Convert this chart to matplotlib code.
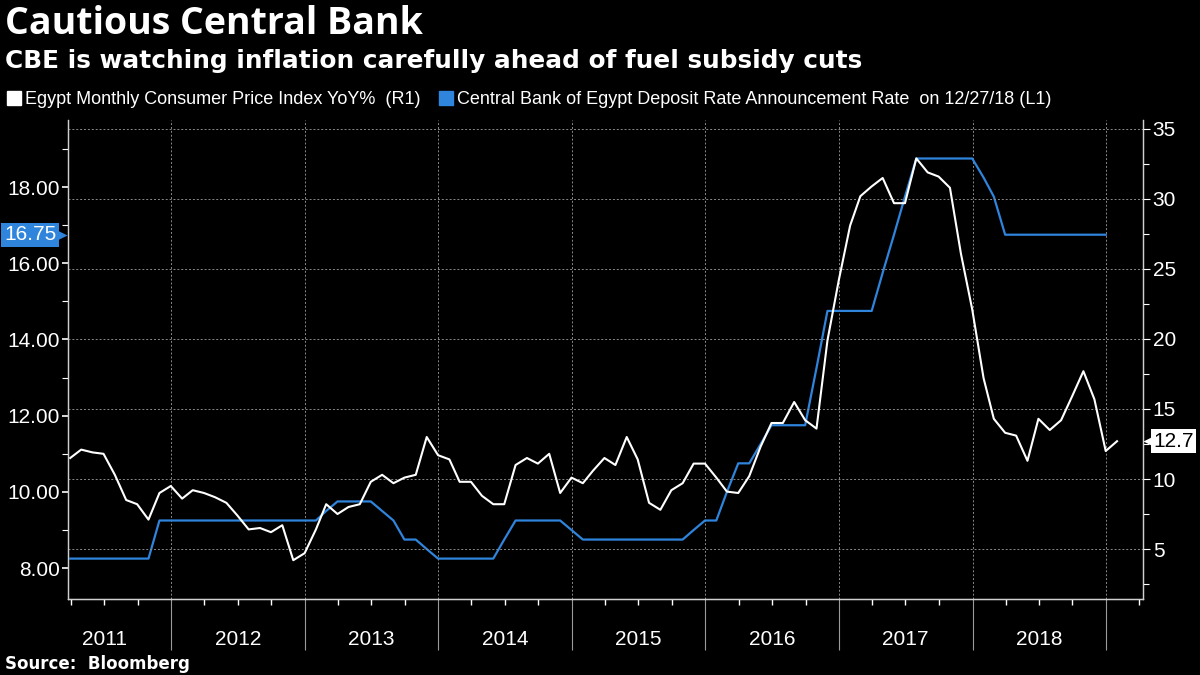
import matplotlib
matplotlib.use("Agg")
import matplotlib.pyplot as plt
import matplotlib.dates as mdates
import matplotlib.transforms as mtransforms
from matplotlib.lines import Line2D
import pandas as pd
import numpy as np

# Egypt monthly CPI YoY %, Mar 2011 .. Jan 2019 (right axis)
cpi = [11.5, 12.1, 11.9, 11.8, 10.3, 8.5, 8.2, 7.1, 9.0, 9.5,
       8.6, 9.2, 9.0, 8.7, 8.3, 7.4, 6.4, 6.5, 6.2, 6.7, 4.2, 4.7,
       6.4, 8.2, 7.5, 8.0, 8.2, 9.8, 10.3, 9.7, 10.1, 10.3, 13.0, 11.7,
       11.4, 9.8, 9.8, 8.8, 8.2, 8.2, 11.0, 11.5, 11.1, 11.8, 9.0, 10.1,
       9.7, 10.6, 11.5, 11.0, 13.0, 11.4, 8.3, 7.8, 9.2, 9.7, 11.1, 11.1,
       10.1, 9.1, 9.0, 10.2, 12.3, 14.0, 14.0, 15.5, 14.2, 13.6, 19.9, 24.2,
       28.1, 30.2, 30.9, 31.5, 29.7, 29.7, 32.9, 31.9, 31.6, 30.8, 26.1, 22.1,
       17.2, 14.3, 13.3, 13.1, 11.3, 14.3, 13.5, 14.2, 15.9, 17.7, 15.7, 12.0,
       12.7]

# CBE deposit rate, Mar 2011 .. Dec 2018 (left axis)
rate = [8.25, 8.25, 8.25, 8.25, 8.25, 8.25, 8.25, 8.25, 9.25, 9.25,
        9.25, 9.25, 9.25, 9.25, 9.25, 9.25, 9.25, 9.25, 9.25, 9.25, 9.25, 9.25,
        9.25, 9.5, 9.75, 9.75, 9.75, 9.75, 9.5, 9.25, 8.75, 8.75, 8.5, 8.25,
        8.25, 8.25, 8.25, 8.25, 8.25, 8.75, 9.25, 9.25, 9.25, 9.25, 9.25, 9.0,
        8.75, 8.75, 8.75, 8.75, 8.75, 8.75, 8.75, 8.75, 8.75, 8.75, 9.0, 9.25,
        9.25, 10.0, 10.75, 10.75, 11.25, 11.75, 11.75, 11.75, 11.75, 13.25, 14.75, 14.75,
        14.75, 14.75, 14.75, 15.75, 16.75, 17.75, 18.75, 18.75, 18.75, 18.75, 18.75, 18.75,
        18.25, 17.75, 16.75, 16.75, 16.75, 16.75, 16.75, 16.75, 16.75, 16.75, 16.75, 16.75]

years = list(range(2011, 2019))
left_ticks = [8, 10, 12, 14, 16, 18]
right_ticks = [5, 10, 15, 20, 25, 30, 35]

cpi_dates = pd.date_range("2011-03-31", periods=len(cpi), freq="ME")
rate_dates = pd.date_range("2011-03-31", periods=len(rate), freq="ME")

BLUE = "#2f84dc"
GRID = "#8a8a8a"
plt.rcParams["font.family"] = ["Liberation Sans", "DejaVu Sans"]

fig = plt.figure(figsize=(12, 6.75), dpi=100, facecolor="black")
ax = fig.add_axes([0.0567, 0.1126, 0.8958, 0.7096])
ax.set_facecolor("black")
ax2 = ax.twinx()

# lines
ax.plot(rate_dates, rate, color=BLUE, lw=1.6, zorder=3)
ax2.plot(cpi_dates, cpi, color="white", lw=1.5, zorder=3)

# limits
ax.set_xlim(pd.Timestamp("2011-03-25"), pd.Timestamp("2019-04-12"))
ax.set_ylim(7.19, 19.76)
ax2.set_ylim(1.43, 35.64)

# x axis: long year separators, quarterly minor ticks
ax.xaxis.set_major_locator(mdates.YearLocator())
ax.xaxis.set_minor_locator(mdates.MonthLocator(bymonth=[1, 4, 7, 10]))
ax.xaxis.set_major_formatter(plt.NullFormatter())
ax.tick_params(axis="x", which="major", length=37, width=0.8, color="#9a9a9a")
ax.tick_params(axis="x", which="minor", length=4, width=1.0, color="white")
for y in years:
    ax.text(pd.Timestamp(f"{y}-07-02"), -0.085, str(y), transform=ax.get_xaxis_transform(),
            ha="center", va="center", color="white", fontsize=15)

# vertical grid at year boundaries
ax.grid(axis="x", which="major", color=GRID, ls=(0, (2, 2)), lw=0.7)
ax.set_axisbelow(True)

# left axis
ax.set_yticks(left_ticks)
ax.set_yticks(np.arange(9, 20, 2), minor=True)
ax.set_yticklabels([f"{v:.2f}" for v in left_ticks])
ax.tick_params(axis="y", which="major", length=4, width=1.2, color="white", labelcolor="white",
               labelsize=15, pad=2)
ax.tick_params(axis="y", which="minor", length=4, width=0.8, color="white")

# right axis
ax2.set_yticks(right_ticks)
ax2.set_yticks(np.arange(2.5, 35, 5), minor=True)
ax2.tick_params(axis="y", which="major", length=5, width=0.8, color="white", labelcolor="white",
                labelsize=15, pad=2)
ax2.tick_params(axis="y", which="minor", length=4, width=0.8, color="white")
ax2.grid(axis="y", which="major", color=GRID, ls=(0, (2, 2)), lw=0.7)
ax2.set_axisbelow(True)

for a in (ax, ax2):
    a.spines["top"].set_visible(False)
    for s in ("left", "right", "bottom"):
        a.spines[s].set_color("#cfcfcf")
        a.spines[s].set_linewidth(0.9)
ax.spines["bottom"].set_color("white")

# last value tags (box + small pointer drawn underneath)
ax.annotate(f"{rate[-1]:.2f}", xy=(0, rate[-1]), xycoords=ax.get_yaxis_transform(),
            xytext=(-8.5, 0), textcoords="offset points", ha="right", va="center",
            color="white", fontsize=15, zorder=7,
            bbox=dict(boxstyle="square,pad=0.12", fc=BLUE, ec="none"))
left_tip = mtransforms.offset_copy(ax.get_yaxis_transform(), fig=fig, x=-9, y=0, units="dots")
ax.plot([0], [rate[-1]], marker=">", ms=11, color=BLUE, mec="none",
        transform=left_tip, clip_on=False, zorder=6)

ax2.annotate(f"{cpi[-1]:.1f}", xy=(1, cpi[-1]), xycoords=ax2.get_yaxis_transform(),
             xytext=(7.5, 0), textcoords="offset points", ha="left", va="center",
             color="black", fontsize=15, zorder=7,
             bbox=dict(boxstyle="square,pad=0.12", fc="white", ec="none"))
right_tip = mtransforms.offset_copy(ax2.get_yaxis_transform(), fig=fig, x=8, y=0, units="dots")
ax2.plot([1], [cpi[-1]], marker="<", ms=11, color="white", mec="none",
         transform=right_tip, clip_on=False, zorder=6)

# legend
handles = [Line2D([], [], ls="none", marker="s", ms=10, color="white"),
           Line2D([], [], ls="none", marker="s", ms=10, color=BLUE)]
labels = ["Egypt Monthly Consumer Price Index YoY%  (R1)",
          "Central Bank of Egypt Deposit Rate Announcement Rate  on 12/27/18 (L1)"]
fig.legend(handles, labels, loc="center left", bbox_to_anchor=(0.0, 0.852), ncol=2,
           frameon=False, fontsize=13, labelcolor="white", handlelength=0.8,
           handletextpad=0.2, columnspacing=1.0, borderaxespad=0)

# titles
fig.text(0.004, 0.965, "Cautious Central Bank", color="white", fontsize=27,
         fontweight="bold", family=["Open Sans", "DejaVu Sans"], va="center")
fig.text(0.004, 0.91, "CBE is watching inflation carefully ahead of fuel subsidy cuts",
         color="white", fontsize=17.8, fontweight="bold", family="DejaVu Sans",
         va="center")
fig.text(0.004, 0.017, "Source:  Bloomberg", color="white", fontsize=12,
         fontweight="bold", family="DejaVu Sans", va="center")

fig.savefig("out.png", dpi=100, facecolor="black")
